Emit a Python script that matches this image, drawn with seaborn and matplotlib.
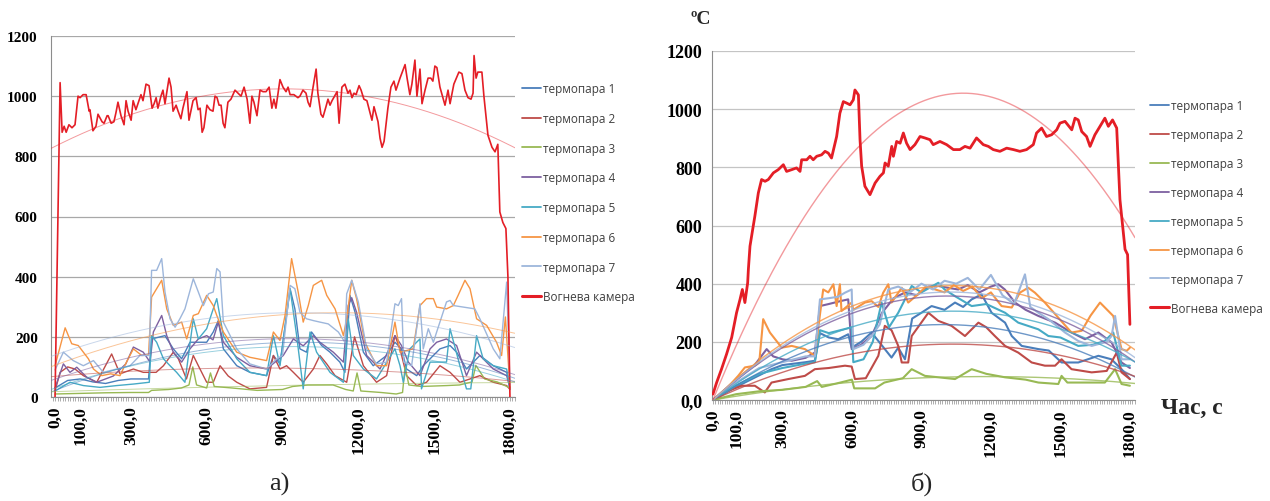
import numpy as np
import matplotlib
matplotlib.use("Agg")
import matplotlib.pyplot as plt
import seaborn as sns
from matplotlib.lines import Line2D
from matplotlib.ticker import MultipleLocator, FuncFormatter
from matplotlib.font_manager import FontProperties

# ---------------------------------------------------------------- data
series_names = ["термопара 1", "термопара 2", "термопара 3", "термопара 4",
                "термопара 5", "термопара 6", "термопара 7", "Вогнева камера"]
series_colors = ["#4A7EBB", "#BE4B48", "#98B954", "#7D60A0",
                 "#46AAC5", "#F69544", "#9DB6DB", "#E41E26"]
x_tick_values = [0, 100, 300, 600, 900, 1200, 1500, 1800]
y_tick_values = [0, 200, 400, 600, 800, 1000, 1200]

# panel а) ------------------------------------------------------------
a_tc1_t = [0, 50, 100, 150, 200, 250, 300, 370, 382, 435, 468, 501, 534, 600, 626, 646, 666, 719, 771, 837,
           864, 890, 930, 949, 969, 995, 1015, 1055, 1088, 1127, 1147, 1167, 1187, 1220, 1259, 1312, 1345, 1371, 1391, 1431,
           1457, 1497, 1523, 1563, 1589, 1628, 1681, 1734, 1787, 1800]
a_tc1_v = [30, 55, 60, 50, 45, 55, 60, 60, 193, 204, 160, 127, 182, 182, 216, 254, 160, 104, 82, 71,
           138, 110, 360, 293, 160, 149, 216, 171, 149, 116, 82, 338, 282, 149, 104, 138, 182, 160, 93, 71,
           104, 138, 160, 171, 149, 93, 138, 104, 82, 30]

a_tc2_t = [0, 20, 50, 79, 112, 165, 224, 257, 310, 349, 400, 429, 468, 488, 520, 547, 567, 600, 626, 653,
           685, 719, 771, 837, 864, 890, 916, 943, 982, 1022, 1048, 1075, 1108, 1154, 1185, 1220, 1272, 1312, 1345, 1365,
           1391, 1431, 1470, 1523, 1563, 1602, 1642, 1681, 1734, 1787, 1800]
a_tc2_v = [20, 82, 100, 93, 71, 49, 143, 77, 93, 82, 82, 104, 149, 127, 60, 138, 104, 49, 49, 104,
           70, 49, 27, 32, 138, 93, 104, 82, 49, 93, 138, 110, 71, 49, 200, 104, 49, 71, 204, 160,
           71, 38, 49, 104, 82, 49, 60, 71, 49, 38, 25]

a_tc3_t = [0, 100, 200, 300, 370, 382, 450, 500, 530, 545, 560, 600, 615, 630, 700, 800, 900, 940, 1000, 1100,
           1150, 1180, 1195, 1210, 1290, 1350, 1375, 1385, 1400, 1450, 1550, 1600, 1650, 1665, 1700, 1750, 1800]
a_tc3_v = [10, 12, 14, 15, 15, 22, 25, 30, 40, 100, 40, 30, 80, 35, 30, 22, 25, 35, 40, 40,
           25, 20, 80, 20, 15, 10, 15, 100, 40, 35, 38, 40, 50, 105, 60, 50, 30]

a_tc4_t = [0, 33, 59, 86, 125, 165, 231, 280, 310, 349, 376, 389, 422, 442, 468, 501, 534, 567, 600, 625,
           646, 666, 719, 771, 837, 903, 943, 982, 1022, 1048, 1101, 1141, 1160, 1174, 1193, 1233, 1286, 1345, 1371, 1398,
           1444, 1484, 1510, 1549, 1589, 1628, 1668, 1694, 1734, 1787, 1800]
a_tc4_v = [30, 110, 82, 99, 66, 49, 70, 110, 166, 149, 116, 216, 271, 204, 149, 116, 160, 193, 204, 190,
           249, 182, 132, 104, 93, 138, 193, 170, 204, 182, 149, 116, 304, 330, 282, 138, 93, 204, 171, 116,
           71, 160, 182, 193, 171, 71, 149, 127, 93, 71, 30]

a_tc5_t = [0, 59, 112, 178, 244, 310, 373, 382, 402, 429, 455, 481, 514, 547, 567, 600, 626, 640, 666, 719,
           771, 837, 864, 890, 930, 956, 982, 1009, 1035, 1088, 1141, 1160, 1180, 1220, 1272, 1345, 1365, 1378, 1404, 1444,
           1450, 1484, 1549, 1563, 1602, 1628, 1645, 1668, 1694, 1734, 1787, 1800]
a_tc5_v = [20, 49, 38, 32, 38, 43, 49, 204, 182, 127, 104, 82, 49, 260, 193, 227, 293, 327, 204, 127,
           82, 71, 204, 104, 360, 204, 27, 216, 149, 82, 49, 260, 138, 93, 60, 160, 104, 49, 160, 193,
           27, 116, 116, 227, 104, 27, 27, 204, 127, 104, 93, 25]

a_tc6_t = [0, 40, 66, 92, 132, 152, 185, 220, 257, 285, 310, 343, 370, 382, 422, 442, 468, 501, 521, 547,
           567, 600, 626, 640, 666, 719, 771, 837, 864, 890, 910, 936, 962, 982, 1002, 1022, 1055, 1075, 1108, 1141,
           1154, 1174, 1193, 1226, 1272, 1312, 1345, 1365, 1417, 1444, 1470, 1497, 1510, 1549, 1576, 1595, 1622, 1642, 1668, 1708,
           1747, 1767, 1782, 1800]
a_tc6_v = [104, 230, 177, 171, 127, 93, 71, 77, 71, 120, 160, 138, 140, 332, 388, 293, 238, 249, 193, 271,
           277, 338, 304, 271, 216, 149, 132, 121, 216, 188, 271, 460, 349, 249, 304, 371, 388, 338, 293, 204,
           260, 388, 327, 182, 104, 104, 249, 149, 160, 304, 327, 327, 299, 293, 304, 338, 388, 360, 260, 238,
           182, 138, 266, 30]

a_tc7_t = [0, 33, 72, 112, 152, 191, 244, 297, 336, 373, 382, 402, 422, 435, 455, 475, 494, 514, 547, 567,
           587, 607, 626, 640, 653, 666, 719, 771, 837, 877, 900, 930, 949, 969, 995, 1022, 1048, 1081, 1121, 1147,
           1154, 1174, 1200, 1233, 1272, 1312, 1345, 1358, 1371, 1380, 1411, 1444, 1457, 1477, 1497, 1510, 1549, 1563, 1576, 1661,
           1681, 1734, 1760, 1787, 1800]
a_tc7_v = [90, 149, 121, 104, 121, 82, 93, 104, 138, 138, 421, 421, 460, 349, 260, 232, 260, 293, 393, 349,
           304, 343, 349, 427, 416, 249, 160, 110, 93, 127, 138, 371, 360, 282, 260, 254, 249, 243, 216, 182,
           343, 388, 316, 160, 110, 116, 310, 304, 327, 116, 104, 310, 160, 227, 182, 216, 316, 321, 304, 293,
           260, 160, 127, 382, 40]

a_fire_t = [0, 20, 28, 36, 44, 55, 67, 79, 91, 99,
            111, 123, 135, 138, 150, 162, 170, 186, 194, 206,
            210, 222, 233, 241, 249, 261, 273, 281, 289, 301,
            309, 320, 340, 348, 360, 372, 384, 392, 400, 407,
            419, 427, 435, 451, 459, 467, 479, 487, 498, 506,
            522, 530, 546, 558, 566, 574, 582, 589, 601, 613,
            625, 633, 641, 649, 657, 665, 672, 684, 696, 712,
            724, 736, 748, 760, 771, 779, 787, 799, 811, 823,
            835, 847, 858, 866, 874, 890, 902, 914, 922, 930,
            945, 961, 969, 981, 993, 1001, 1009, 1021, 1033, 1040,
            1052, 1060, 1072, 1080, 1088, 1096, 1116, 1124, 1135, 1147,
            1159, 1167, 1175, 1183, 1191, 1203, 1211, 1222, 1234, 1254,
            1262, 1278, 1286, 1294, 1302, 1317, 1329, 1341, 1349, 1365,
            1385, 1393, 1404, 1412, 1424, 1432, 1444, 1452, 1464, 1476,
            1487, 1495, 1503, 1511, 1523, 1543, 1555, 1563, 1578, 1598,
            1610, 1622, 1634, 1646, 1654, 1658, 1666, 1673, 1689, 1697,
            1713, 1729, 1741, 1752, 1760, 1772, 1784, 1792, 1800]
a_fire_v = [0, 1045, 880, 900, 880, 905, 895, 905, 1000, 995,
            1005, 1005, 950, 955, 885, 900, 940, 915, 910, 935,
            935, 910, 915, 945, 980, 935, 905, 985, 950, 920,
            985, 955, 1005, 985, 1040, 1035, 960, 975, 995, 960,
            1000, 1020, 975, 1060, 1030, 950, 970, 950, 925, 960,
            1015, 920, 985, 995, 955, 960, 880, 895, 970, 955,
            950, 1000, 995, 970, 970, 910, 895, 980, 990, 1020,
            1010, 1000, 1030, 990, 910, 1000, 980, 935, 1020, 1015,
            1015, 1030, 960, 990, 960, 1055, 1030, 1015, 1030, 1005,
            1005, 995, 1000, 1020, 1010, 980, 965, 1030, 1090, 1010,
            940, 930, 965, 990, 970, 985, 1015, 910, 1030, 1040,
            1010, 1020, 995, 1010, 1005, 1035, 1020, 990, 985, 920,
            965, 915, 860, 830, 850, 960, 1030, 1050, 1020, 1060,
            1105, 1060, 1005, 1040, 1120, 1000, 1090, 975, 1020, 1060,
            1060, 1050, 1100, 1095, 1030, 970, 1020, 975, 1040, 1080,
            1075, 1020, 995, 990, 1010, 1135, 1060, 1080, 1080, 1000,
            870, 830, 815, 840, 615, 580, 560, 400, 0]

# panel б) ------------------------------------------------------------
b_tc1_t = [0, 100, 200, 253, 300, 350, 400, 440, 462, 500, 541, 584, 599, 640, 685, 742, 771, 800, 829, 860,
           900, 944, 1000, 1045, 1080, 1117, 1160, 1203, 1261, 1290, 1333, 1405, 1450, 1505, 1577, 1664, 1720, 1764, 1800]
b_tc1_v = [0, 45, 85, 106, 120, 125, 130, 135, 230, 215, 209, 226, 180, 200, 232, 175, 146, 180, 140, 280,
           300, 323, 310, 335, 320, 346, 363, 300, 266, 220, 186, 175, 170, 129, 129, 152, 140, 106, 72]

b_tc2_t = [0, 60, 124, 181, 224, 253, 325, 397, 440, 500, 570, 599, 613, 660, 714, 742, 771, 800, 815, 843,
           858, 930, 973, 1030, 1088, 1146, 1180, 1217, 1261, 1318, 1376, 1433, 1477, 1505, 1548, 1635, 1700, 1743, 1764, 1800]
b_tc2_v = [0, 30, 49, 49, 26, 60, 72, 83, 106, 110, 118, 115, 72, 75, 152, 255, 240, 186, 129, 129,
           220, 300, 272, 255, 220, 266, 250, 220, 186, 163, 129, 118, 118, 140, 106, 95, 100, 163, 95, 72]

b_tc3_t = [0, 100, 200, 300, 400, 450, 470, 550, 600, 610, 700, 740, 820, 858, 915, 1045, 1117, 1180, 1261, 1350,
           1405, 1491, 1505, 1530, 1692, 1736, 1764, 1800]
b_tc3_v = [0, 20, 30, 35, 45, 65, 45, 60, 70, 40, 40, 60, 75, 106, 83, 72, 106, 90, 78, 70,
           60, 55, 83, 60, 60, 106, 55, 49]

b_tc4_t = [0, 100, 180, 232, 260, 300, 340, 400, 440, 462, 500, 550, 584, 599, 640, 685, 730, 780, 830, 880,
           930, 973, 1020, 1059, 1100, 1150, 1200, 1232, 1260, 1304, 1350, 1405, 1477, 1548, 1606, 1664, 1721, 1764, 1800]
b_tc4_v = [0, 70, 120, 175, 150, 140, 135, 145, 163, 323, 330, 340, 346, 175, 190, 220, 300, 350, 370, 360,
           390, 392, 385, 380, 395, 370, 390, 398, 380, 335, 310, 289, 266, 232, 209, 232, 198, 129, 110]

b_tc5_t = [0, 100, 200, 300, 400, 440, 462, 500, 550, 599, 606, 650, 690, 728, 760, 800, 858, 900, 973, 1000,
           1045, 1117, 1180, 1261, 1318, 1405, 1448, 1500, 1577, 1640, 1692, 1728, 1764, 1800]
b_tc5_v = [0, 50, 90, 110, 125, 130, 240, 230, 240, 250, 130, 140, 200, 335, 250, 300, 392, 370, 403, 380,
           357, 323, 330, 300, 266, 243, 220, 215, 186, 190, 203, 232, 118, 118]

b_tc6_t = [0, 60, 109, 138, 181, 200, 217, 246, 297, 340, 397, 440, 455, 476, 498, 520, 534, 548, 555, 599,
           606, 656, 685, 714, 735, 757, 771, 815, 843, 880, 920, 960, 1000, 1040, 1080, 1120, 1160, 1200, 1246, 1290,
           1325, 1361, 1390, 1433, 1491, 1548, 1592, 1630, 1671, 1692, 1728, 1764, 1786, 1800]
b_tc6_v = [0, 40, 83, 112, 118, 130, 278, 232, 180, 186, 175, 152, 250, 380, 370, 398, 323, 398, 306, 335,
           310, 335, 340, 320, 369, 398, 335, 386, 335, 360, 390, 380, 370, 395, 375, 390, 350, 370, 323, 318,
           369, 386, 369, 335, 283, 232, 238, 290, 335, 318, 289, 175, 169, 180]

b_tc7_t = [0, 100, 200, 300, 400, 440, 462, 500, 540, 570, 599, 606, 650, 685, 720, 757, 800, 850, 900, 950,
           1000, 1050, 1100, 1150, 1200, 1250, 1300, 1347, 1370, 1405, 1448, 1520, 1577, 1635, 1700, 1721, 1736, 1764, 1800]
b_tc7_v = [0, 60, 110, 130, 150, 150, 346, 350, 355, 369, 380, 175, 190, 220, 260, 380, 390, 370, 400, 380,
           410, 400, 420, 380, 430, 360, 330, 432, 320, 300, 278, 232, 203, 186, 200, 220, 289, 140, 140]

b_fire_t = [0, 16, 37, 59, 81, 102, 117, 127, 138, 150,
            153, 160, 174, 181, 196, 210, 225, 239, 261, 282,
            304, 318, 340, 361, 376, 383, 405, 419, 433, 448,
            469, 484, 498, 512, 534, 548, 563, 577, 592, 606,
            613, 628, 635, 642, 656, 678, 700, 721, 736, 743,
            757, 772, 779, 793, 808, 822, 836, 851, 872, 894,
            915, 937, 951, 980, 1009, 1038, 1066, 1088, 1110, 1138,
            1167, 1189, 1210, 1239, 1268, 1297, 1325, 1354, 1383, 1397,
            1419, 1440, 1462, 1484, 1498, 1520, 1549, 1563, 1577, 1592,
            1613, 1628, 1649, 1671, 1692, 1707, 1725, 1743, 1757, 1779,
            1790, 1800]
b_fire_v = [20, 60, 106, 158, 215, 300, 346, 380, 335, 403,
            449, 529, 598, 632, 712, 758, 752, 758, 781, 792,
            809, 786, 792, 798, 786, 826, 826, 838, 826, 838,
            843, 855, 849, 832, 906, 986, 1026, 1021, 1015, 1032,
            1066, 1049, 895, 804, 735, 706, 746, 769, 781, 815,
            804, 872, 838, 889, 883, 918, 883, 861, 878, 906,
            901, 895, 878, 889, 878, 861, 861, 872, 866, 901,
            878, 872, 861, 855, 866, 861, 855, 861, 878, 918,
            935, 906, 912, 929, 952, 958, 929, 969, 963, 923,
            906, 872, 912, 941, 969, 941, 963, 935, 689, 518,
            500, 260]

panel_a = [(a_tc1_t, a_tc1_v), (a_tc2_t, a_tc2_v), (a_tc3_t, a_tc3_v), (a_tc4_t, a_tc4_v),
           (a_tc5_t, a_tc5_v), (a_tc6_t, a_tc6_v), (a_tc7_t, a_tc7_v), (a_fire_t, a_fire_v)]
panel_b = [(b_tc1_t, b_tc1_v), (b_tc2_t, b_tc2_v), (b_tc3_t, b_tc3_v), (b_tc4_t, b_tc4_v),
           (b_tc5_t, b_tc5_v), (b_tc6_t, b_tc6_v), (b_tc7_t, b_tc7_v), (b_fire_t, b_fire_v)]


# ---------------------------------------------------------------- trends
def quad_fit(t, v):
    """Second-order polynomial trend."""
    return np.polyfit(np.asarray(t, float), np.asarray(v, float), 2)


def quad_fit_origin(t, v):
    """Second-order polynomial trend forced through the origin."""
    t = np.asarray(t, float)
    A = np.column_stack([t ** 2, t])
    (a, b), *_ = np.linalg.lstsq(A, np.asarray(v, float), rcond=None)
    return np.array([a, b, 0.0])


# ---------------------------------------------------------------- figure
sns.set_theme(style="white")
plt.rcParams["font.family"] = ["Liberation Serif", "DejaVu Serif"]

W, H = 1270, 502
fig = plt.figure(figsize=(W / 100, H / 100), dpi=100)
fig.patch.set_facecolor("white")


def px_axes(x0, y_top, x1, y_bot):
    return fig.add_axes([x0 / W, 1 - y_bot / H, (x1 - x0) / W, (y_bot - y_top) / H])


ax_a = px_axes(51, 37, 515, 398)
ax_b = px_axes(712, 52, 1135, 401)


def draw_panel(ax, data, fit, span, lw_tc, lw_fire, lw_trend, trend_alpha):
    for (t, v), name, color in zip(data, series_names, series_colors):
        fire = name == series_names[-1]
        sns.lineplot(x=t, y=v, ax=ax, color=color, linewidth=lw_fire if fire else lw_tc,
                     estimator=None, sort=False, legend=False, zorder=3 if fire else 2)
    for (t, v), name, color in zip(data, series_names, series_colors):
        fire = name == series_names[-1]
        coef = fit(t, v)
        tt = np.linspace(span[0], span[1], 400)
        sns.lineplot(x=tt, y=np.polyval(coef, tt), ax=ax, color=color,
                     linewidth=lw_trend, alpha=0.45 if fire else trend_alpha,
                     estimator=None, sort=False, legend=False, zorder=4)


draw_panel(ax_a, panel_a, quad_fit, (-16, 1820), 1.0, 1.2, 0.7, 0.55)
draw_panel(ax_b, panel_b, quad_fit_origin, (0, 1822), 1.5, 2.0, 1.0, 0.8)


def style_axes(ax, xlim, ylab_size, ylab_pad, zero_label, grid_color):
    ax.set_xlim(*xlim)
    ax.set_ylim(0, 1200)
    ax.set_xlabel("")
    ax.set_ylabel("")
    for s in ("top", "right"):
        ax.spines[s].set_visible(False)
    for s in ("left", "bottom"):
        ax.spines[s].set_color("#8C8C8C")
        ax.spines[s].set_linewidth(0.8)
    ax.set_yticks(y_tick_values)
    ax.yaxis.set_major_formatter(FuncFormatter(lambda v, p: zero_label if v == 0 else f"{int(v)}"))
    ax.set_xticks(x_tick_values)
    ax.set_xticklabels([f"{v},0" for v in x_tick_values])
    ax.xaxis.set_minor_locator(MultipleLocator(10))
    ax.grid(False)
    ax.yaxis.grid(True, color=grid_color, linewidth=0.9)
    ax.set_axisbelow(True)
    ax.tick_params(axis="x", which="both", bottom=True, direction="out", length=3,
                   width=0.6, color="#A0A0A0")
    ax.tick_params(axis="x", which="major", labelsize=12.5, pad=3, labelrotation=90)
    ax.tick_params(axis="y", length=0, pad=ylab_pad, labelsize=ylab_size)
    for lab in ax.get_xticklabels() + ax.get_yticklabels():
        lab.set_fontweight("bold")
        lab.set_color("black")


style_axes(ax_a, (-16, 1820), 11, 9.5, "0", "#A8A8A8")
style_axes(ax_b, (-4, 1822), 13, 7, "0,0", "#C4C4C4")

# legends
legend_font = FontProperties(family=["Open Sans", "DejaVu Sans"], size=8.5)


def legend_handles(fire_lw, tc_lw):
    return [Line2D([0], [0], color=c, lw=fire_lw if n == series_names[-1] else tc_lw)
            for n, c in zip(series_names, series_colors)]


for x0, y0, spacing in ((522, 83, 1.42), (1150, 100, 1.35)):
    leg = fig.legend(legend_handles(2.2, 1.3), series_names, loc="upper left",
                     bbox_to_anchor=(x0 / W, 1 - y0 / H), bbox_transform=fig.transFigure,
                     frameon=False, borderpad=0, borderaxespad=0, handlelength=1.6,
                     handletextpad=0.15, labelspacing=spacing, prop=legend_font)
    for txt in leg.get_texts():
        txt.set_color("#404040")

# annotations
fig.text(701 / W, 1 - 20 / H, "ºC", ha="center", va="center", fontsize=14, fontweight="bold")
fig.text(1192 / W, 1 - 408 / H, "Час, с", ha="center", va="center", fontsize=17, fontweight="bold")
fig.text(279 / W, 1 - 484 / H, "а)", ha="center", va="center", fontsize=19)
fig.text(922 / W, 1 - 484 / H, "б)", ha="center", va="center", fontsize=19)

fig.savefig("out.png", dpi=100, facecolor="white")
